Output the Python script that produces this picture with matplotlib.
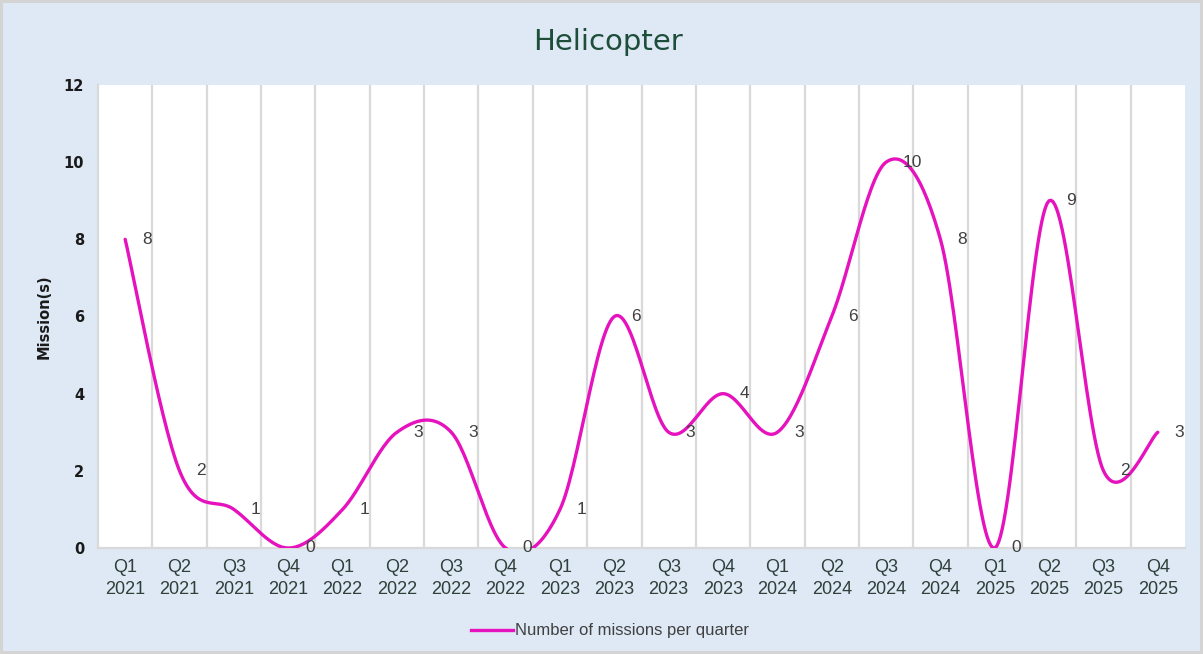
import numpy as np
import matplotlib.pyplot as plt
from matplotlib.lines import Line2D

# Data
quarters = ["Q1", "Q2", "Q3", "Q4"] * 5
years = ["2021"] * 4 + ["2022"] * 4 + ["2023"] * 4 + ["2024"] * 4 + ["2025"] * 4
missions = [8, 2, 1, 0, 1, 3, 3, 0, 1, 6, 3, 4, 3, 6, 10, 8, 0, 9, 2, 3]
series_name = "Number of missions per quarter"
title = "Helicopter"

tick_labels = [q + "\n" + y for q, y in zip(quarters, years)]

bg = "#DEE9F5"
line_color = "#E512BE"


def smooth_curve(x, y, steps=30):
    # Excel style smoothed line: cubic bezier with catmull-rom control points
    x = np.asarray(x, dtype=float)
    y = np.asarray(y, dtype=float)
    n = len(x)
    xs, ys = [], []
    for i in range(n - 1):
        p0 = np.array([x[max(i - 1, 0)], y[max(i - 1, 0)]])
        p1 = np.array([x[i], y[i]])
        p2 = np.array([x[i + 1], y[i + 1]])
        p3 = np.array([x[min(i + 2, n - 1)], y[min(i + 2, n - 1)]])
        c1 = p1 + (p2 - p0) / 6.0
        c2 = p2 - (p3 - p1) / 6.0
        t = np.linspace(0, 1, steps)[:, None]
        pts = ((1 - t) ** 3) * p1 + 3 * ((1 - t) ** 2) * t * c1 + 3 * (1 - t) * t ** 2 * c2 + t ** 3 * p2
        xs.extend(pts[:, 0])
        ys.extend(pts[:, 1])
    return np.array(xs), np.array(ys)


fig = plt.figure(figsize=(12.03, 6.54), dpi=100)
fig.patch.set_facecolor(bg)
fig.patch.set_edgecolor("#D4D4D4")
fig.patch.set_linewidth(3)

ax = fig.add_axes([98 / 1203, 1 - 548 / 654, (1185 - 98) / 1203, (548 - 85) / 654])
ax.set_facecolor("white")

xpos = np.arange(len(missions))
sx, sy = smooth_curve(xpos, missions)
ax.plot(sx, sy, color=line_color, lw=2.4, solid_capstyle="round", zorder=3)

for xi, v in zip(xpos, missions):
    ax.annotate(str(v), (xi, v), xytext=(12, 0), textcoords="offset points",
                ha="left", va="center", fontsize=12.5, color="#404040",
                family="Liberation Sans", zorder=4)

ax.set_xlim(-0.5, len(missions) - 0.5)
ax.set_ylim(0, 12)
ax.set_yticks(range(0, 13, 2))
ax.set_xticks(xpos)
ax.set_xticklabels(tick_labels, fontsize=13, color="#2F3F3A", linespacing=1.4,
                   family="Liberation Sans")
for lab in ax.get_yticklabels():
    lab.set_fontweight("bold")
    lab.set_fontsize(10.5)
    lab.set_color("#1A1A1A")
ax.tick_params(axis="both", length=0)
ax.tick_params(axis="y", pad=10)
ax.tick_params(axis="x", pad=8)

for gx in np.arange(0.5, len(missions) - 0.5, 1):
    ax.axvline(gx, color="#D9D9D9", lw=1.6, zorder=1)

for side in ["top", "right"]:
    ax.spines[side].set_visible(False)
ax.spines["left"].set_color("#D9D9D9")
ax.spines["left"].set_linewidth(1.6)
ax.spines["bottom"].set_color("#D9D9D9")
ax.spines["bottom"].set_linewidth(1.6)

ax.set_ylabel("Mission(s)", fontsize=10.5, fontweight="bold", color="#1A1A1A")
ax.yaxis.set_label_coords(-46 / (1185 - 98), 0.5)

fig.text(608 / 1203, 1 - 42 / 654, title, ha="center", va="center",
         fontsize=21, color="#1E4D3A")

handle = Line2D([], [], color=line_color, lw=2.4)
fig.legend([handle], [series_name], loc="center", bbox_to_anchor=(610 / 1203, 1 - 631 / 654),
           frameon=False, handlelength=2.5, handletextpad=0.15,
           labelcolor="#404040", prop={"family": "Liberation Sans", "size": 12})

fig.savefig("out.png", dpi=100, facecolor=fig.get_facecolor(), edgecolor=fig.get_edgecolor())
